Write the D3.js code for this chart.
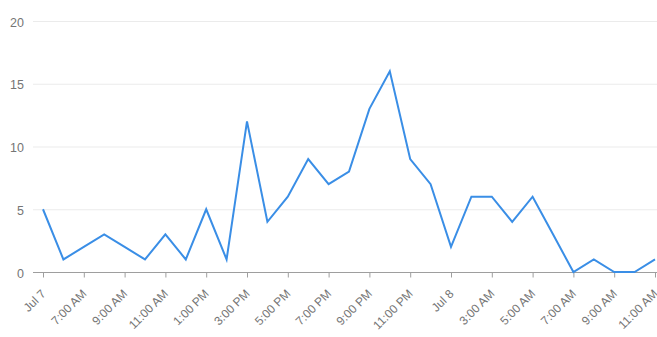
<!DOCTYPE html>
<html><head><meta charset="utf-8">
<script src="https://cdn.jsdelivr.net/npm/d3@7"></script>
<style>html,body{margin:0;padding:0;background:#fff;}svg{display:block;font-family:"Liberation Sans",Arial,sans-serif;}</style>
</head><body>
<svg id="c" width="657" height="337"></svg>
<script>
const hours = d3.range(0, 31);
const values = [5,1,2,3,2,1,3,1,5,1,12,4,6,9,7,8,13,16,9,7,2,6,6,4,6,3,0,1,0,0,1];
const tickHours = [0,2,4,6,8,10,12,14,16,18,20,22,24,26,28,30];
const tickLabels = ["Jul 7","7:00 AM","9:00 AM","11:00 AM","1:00 PM","3:00 PM","5:00 PM","7:00 PM","9:00 PM","11:00 PM","Jul 8","3:00 AM","5:00 AM","7:00 AM","9:00 AM","11:00 AM"];
const yTicks = [0,5,10,15,20];

const svg = d3.select("#c");
const x = d3.scaleLinear().domain([0,30]).range([43,655]);
const y = d3.scaleLinear().domain([0,20]).range([272,21]);

// gridlines
svg.append("g").selectAll("line").data(yTicks.filter(d=>d>0)).join("line")
  .attr("x1",33).attr("x2",657).attr("y1",d=>y(d)+0.5).attr("y2",d=>y(d)+0.5)
  .attr("stroke","#ebebeb").attr("stroke-width",1);

// y labels
svg.append("g").selectAll("text").data(yTicks).join("text")
  .attr("x",24).attr("y",d=>y(d)+5.5).attr("text-anchor","end")
  .attr("font-size",12.5).attr("fill","#757575").text(d=>d);

// x axis
const xAxis = d3.axisBottom(x).tickValues(tickHours).tickSize(5).tickFormat((d,i)=>tickLabels[i]);
const gx = svg.append("g").attr("transform","translate(0,272.5)").call(xAxis);
gx.select(".domain").attr("d","M33,0H657").attr("stroke","#9e9e9e");
gx.selectAll(".tick line").attr("stroke","#9e9e9e");
gx.selectAll(".tick text")
  .attr("font-size",12).attr("fill","#757575").attr("font-family","Liberation Sans, Arial, sans-serif")
  .attr("text-anchor","end").attr("dy",null).attr("y",0)
  .attr("transform","translate(3,22) rotate(-45)");

// line
const line = d3.line().x((d,i)=>x(hours[i])).y(d=>y(d));
svg.append("path").datum(values).attr("d",line)
  .attr("fill","none").attr("stroke","#3a8ee6").attr("stroke-width",2).attr("stroke-linejoin","miter");
</script>
</body></html>
